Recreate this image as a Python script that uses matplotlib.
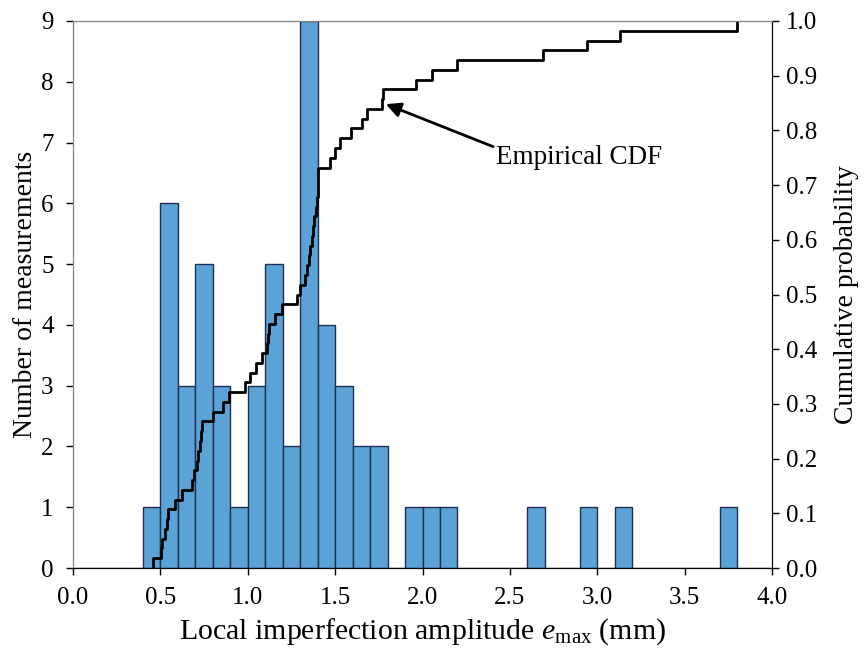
import numpy as np
import matplotlib
matplotlib.use("Agg")
from matplotlib import pyplot as plt

e_max = [0.46,
         0.501, 0.511, 0.527, 0.536, 0.545, 0.584,
         0.622, 0.679, 0.69,
         0.709, 0.715, 0.725, 0.734, 0.74,
         0.801, 0.86, 0.895,
         0.984,
         1.013, 1.047, 1.08,
         1.108, 1.115, 1.122, 1.156, 1.198,
         1.28, 1.298,
         1.328, 1.34, 1.348, 1.356, 1.365, 1.373, 1.38, 1.39, 1.396,
         1.401, 1.402, 1.404, 1.471,
         1.501, 1.528, 1.589,
         1.652, 1.681,
         1.767, 1.776,
         1.963, 2.053, 2.196, 2.691, 2.94, 3.13, 3.798]
bin_edges = np.round(np.arange(0.0, 4.01, 0.1), 2)
x_ticks = [0.0, 0.5, 1.0, 1.5, 2.0, 2.5, 3.0, 3.5, 4.0]
p_ticks = [0.0, 0.1, 0.2, 0.3, 0.4, 0.5, 0.6, 0.7, 0.8, 0.9, 1.0]

plt.rcParams['font.family'] = ['Liberation Serif', 'DejaVu Serif']
plt.rcParams['mathtext.fontset'] = 'custom'
plt.rcParams['mathtext.it'] = 'Liberation Serif:italic'
plt.rcParams['mathtext.rm'] = 'Liberation Serif'

fig = plt.figure(figsize=(8.65, 6.52), dpi=100)
ax = fig.add_axes([0.0844, 0.1288, 0.8081, 0.839])

ax.hist(e_max, bins=bin_edges, color='#5BA3D6', edgecolor='#1F2F4F', linewidth=1.0)
ax.set_xlim(0, 4)
ax.set_ylim(0, 9)
ax.set_xticks(x_ticks)
ax.set_xticklabels(["%.1f" % t for t in x_ticks])
ax.set_yticks(range(10))
ax.tick_params(direction='out', labelsize=18, length=5, width=1)
ax.tick_params(axis='x', pad=9)
ax.tick_params(axis='y', pad=9)
ax.set_xlabel(r"Local imperfection amplitude $e_{\mathrm{max}}$ (mm)", fontsize=21.5, labelpad=5)
ax.set_ylabel("Number of measurements", fontsize=20, labelpad=2)
for s in ['left', 'top']:
    ax.spines[s].set_color('#808080')

ax2 = ax.twinx()
xs = np.sort(e_max)
ys = np.arange(1, len(xs) + 1) / len(xs)
ax2.step(np.r_[xs[0], xs], np.r_[0, ys], where='post', color='black', linewidth=2)
ax2.set_ylim(0, 1)
ax2.set_yticks(p_ticks)
ax2.set_yticklabels(["%.1f" % t for t in p_ticks])
ax2.tick_params(direction='out', labelsize=18, length=5, width=1, pad=5)
ax2.set_ylabel("Cumulative probability", fontsize=20, labelpad=12)
ax2.spines['top'].set_color('#808080')
ax2.spines['left'].set_color('#808080')

ax2.annotate("Empirical CDF", xy=(1.79, 0.848), xytext=(2.42, 0.75),
             fontsize=19.5, va='center', ha='left',
             arrowprops=dict(arrowstyle='-|>', color='black', lw=2,
                             mutation_scale=22, shrinkA=0, shrinkB=0,
                             relpos=(0, 0.9)))

fig.savefig("out.png", dpi=100)
